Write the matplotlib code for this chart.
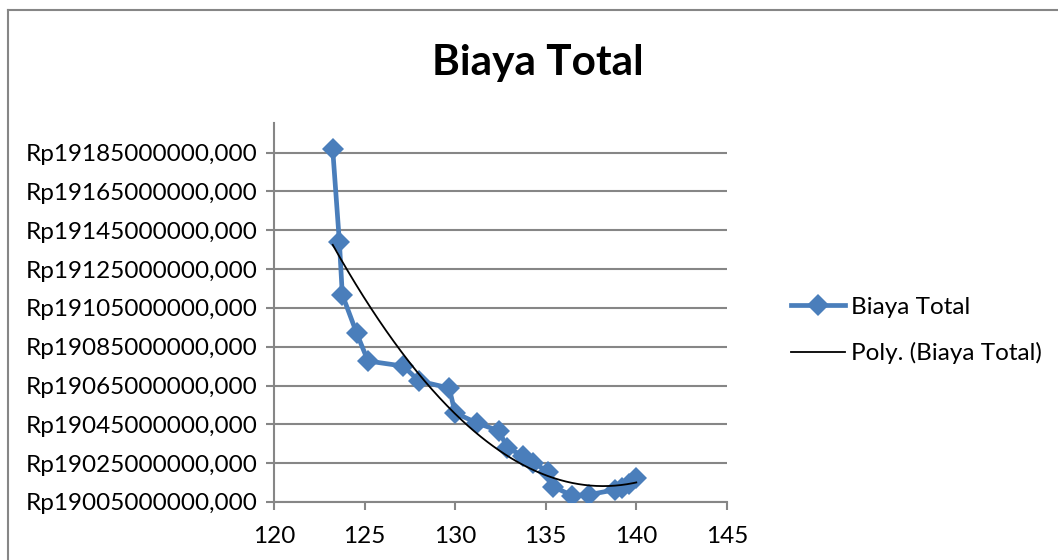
import numpy as np
import matplotlib
matplotlib.use('Agg')
import matplotlib.pyplot as plt
from matplotlib.lines import Line2D
from matplotlib.ticker import FuncFormatter

plt.rcParams['font.family'] = ['Lato', 'DejaVu Sans']

# data (produksi vs biaya total, in Rp)
produksi = [123.24, 123.61, 123.77, 124.57, 125.19, 127.13, 128.01, 129.67,
            130.0, 131.2, 132.43, 132.87, 133.76, 134.31, 135.14, 135.41,
            136.46, 137.4, 138.84, 139.23, 139.61, 140.0]
biaya_juta = [19186.7, 19138.8, 19111.8, 19091.8, 19077.6, 19075.0, 19067.3, 19063.7,
              19050.9, 19045.7, 19041.6, 19032.9, 19028.8, 19025.2, 19020.6, 19012.9,
              19008.3, 19008.8, 19011.3, 19012.3, 19014.4, 19017.4]
biaya = np.array(biaya_juta) * 1e6
x_ticks = [120, 125, 130, 135, 140, 145]
y_ticks = np.arange(19005e6, 19186e6, 20e6)

blue = '#4A7EBB'
grey = '#868686'
Font_Size = 17.5

fig = plt.figure(figsize=(10.58, 5.6), dpi=100)
ax = fig.add_axes([0.259, 0.1036, 0.428, 0.676])

ax.plot(produksi, biaya, '-D', color=blue, lw=3.4, markersize=11.5,
        markeredgewidth=0, label='Biaya Total', zorder=3)

# polynomial trend (order 2) like the spreadsheet trendline
coef = np.polyfit(produksi, biaya, 2)
xs = np.linspace(min(produksi), max(produksi), 200)
ax.plot(xs, np.polyval(coef, xs), color='black', lw=1.3,
        label='Poly. (Biaya Total)', zorder=4)

ax.set_xlim(120, 145)
ax.set_ylim(19005e6, 19200e6)
ax.set_xticks(x_ticks)
ax.set_yticks(y_ticks)
ax.yaxis.set_major_formatter(FuncFormatter(lambda v, p: 'Rp%d,000' % round(v)))
ax.grid(axis='y', color=grey, lw=1.5)
ax.set_axisbelow(True)
for s in ['top', 'right']:
    ax.spines[s].set_visible(False)
for s in ['left', 'bottom']:
    ax.spines[s].set_color(grey)
    ax.spines[s].set_linewidth(1.5)
ax.tick_params(direction='out', length=6, width=1.5, color=grey,
               labelsize=Font_Size, pad=6)
ax.tick_params(axis='x', pad=11)

fig.suptitle('Biaya Total', x=0.508, y=0.887, va='center',
             fontsize=30.5, fontweight='bold')

fig.legend(loc='center left', bbox_to_anchor=(0.727, 0.41), frameon=False,
           fontsize=Font_Size, handlelength=2.2, handletextpad=0.25, labelspacing=1.0)

# chart border (top and left visible)
fig.add_artist(Line2D([8 / 1058, 8 / 1058], [0, 1 - 10 / 560], color=grey, lw=1.5,
                      transform=fig.transFigure))
fig.add_artist(Line2D([8 / 1058, 1], [1 - 10 / 560, 1 - 10 / 560], color=grey, lw=1.5,
                      transform=fig.transFigure))

fig.savefig('out.png', dpi=100)
